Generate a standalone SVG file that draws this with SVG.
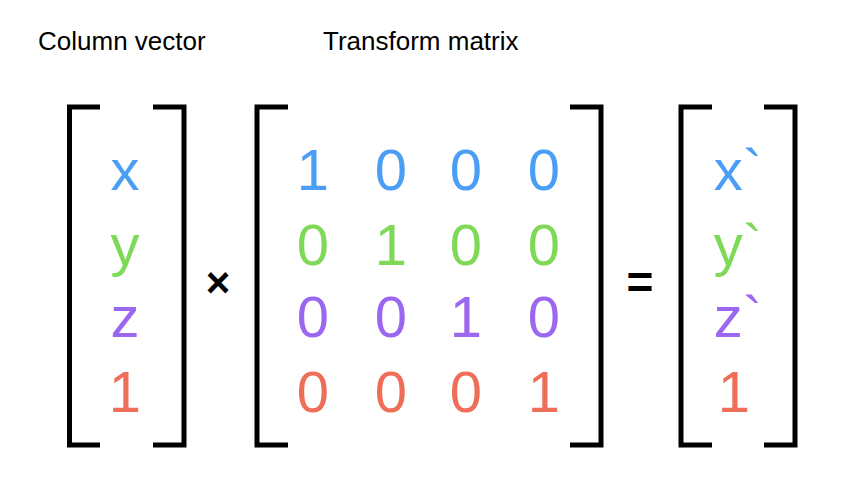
<svg xmlns="http://www.w3.org/2000/svg" width="868" height="486" viewBox="0 0 868 486">
<style>
.br{fill:none;stroke:#000;stroke-width:5}
.t{font-family:"Liberation Sans",Arial,sans-serif;font-size:58px;text-anchor:middle}
.b{fill:#4A9EF5}.g{fill:#7ED957}.p{fill:#9B66F0}.r{fill:#EE6E57}
.lab{font-family:"Liberation Sans",Arial,sans-serif;font-size:26px;fill:#000}
</style>
<rect width="868" height="486" fill="#fff"/>
<text class="lab" x="38" y="50">Column vector</text>
<text class="lab" x="323" y="50">Transform matrix</text>
<g id="vector">
<path class="br" d="M100,107H69.5V445H100M153,107H184V445H153"/>
<text class="t b" x="125" y="190">x</text>
<text class="t g" x="125" y="265">y</text>
<text class="t p" x="125" y="337">z</text>
<text class="t r" x="125" y="412">1</text>
</g>
<g id="times"><text x="218" y="297" style="font-family:'Liberation Sans',sans-serif;font-size:42px;font-weight:bold;text-anchor:middle">×</text></g>
<g id="matrix">
<path class="br" d="M288,107H257V445H288M570,107H601V445H570"/>
<text class="t b" x="313" y="190">1</text><text class="t b" x="391" y="190">0</text><text class="t b" x="466" y="190">0</text><text class="t b" x="544" y="190">0</text>
<text class="t g" x="313" y="265">0</text><text class="t g" x="391" y="265">1</text><text class="t g" x="466" y="265">0</text><text class="t g" x="544" y="265">0</text>
<text class="t p" x="313" y="337">0</text><text class="t p" x="391" y="337">0</text><text class="t p" x="466" y="337">1</text><text class="t p" x="544" y="337">0</text>
<text class="t r" x="313" y="412">0</text><text class="t r" x="391" y="412">0</text><text class="t r" x="466" y="412">0</text><text class="t r" x="544" y="412">1</text>
</g>
<g id="equals"><text x="640" y="298" style="font-family:'Liberation Sans',sans-serif;font-size:46px;font-weight:bold;text-anchor:middle">=</text></g>
<g id="result">
<path class="br" d="M712,107H681V445H712M764,107H795V445H764"/>
<text class="t b" x="738" y="190">x`</text>
<text class="t g" x="738" y="265">y`</text>
<text class="t p" x="738" y="337">z`</text>
<text class="t r" x="734" y="412">1</text>
</g>
</svg>
